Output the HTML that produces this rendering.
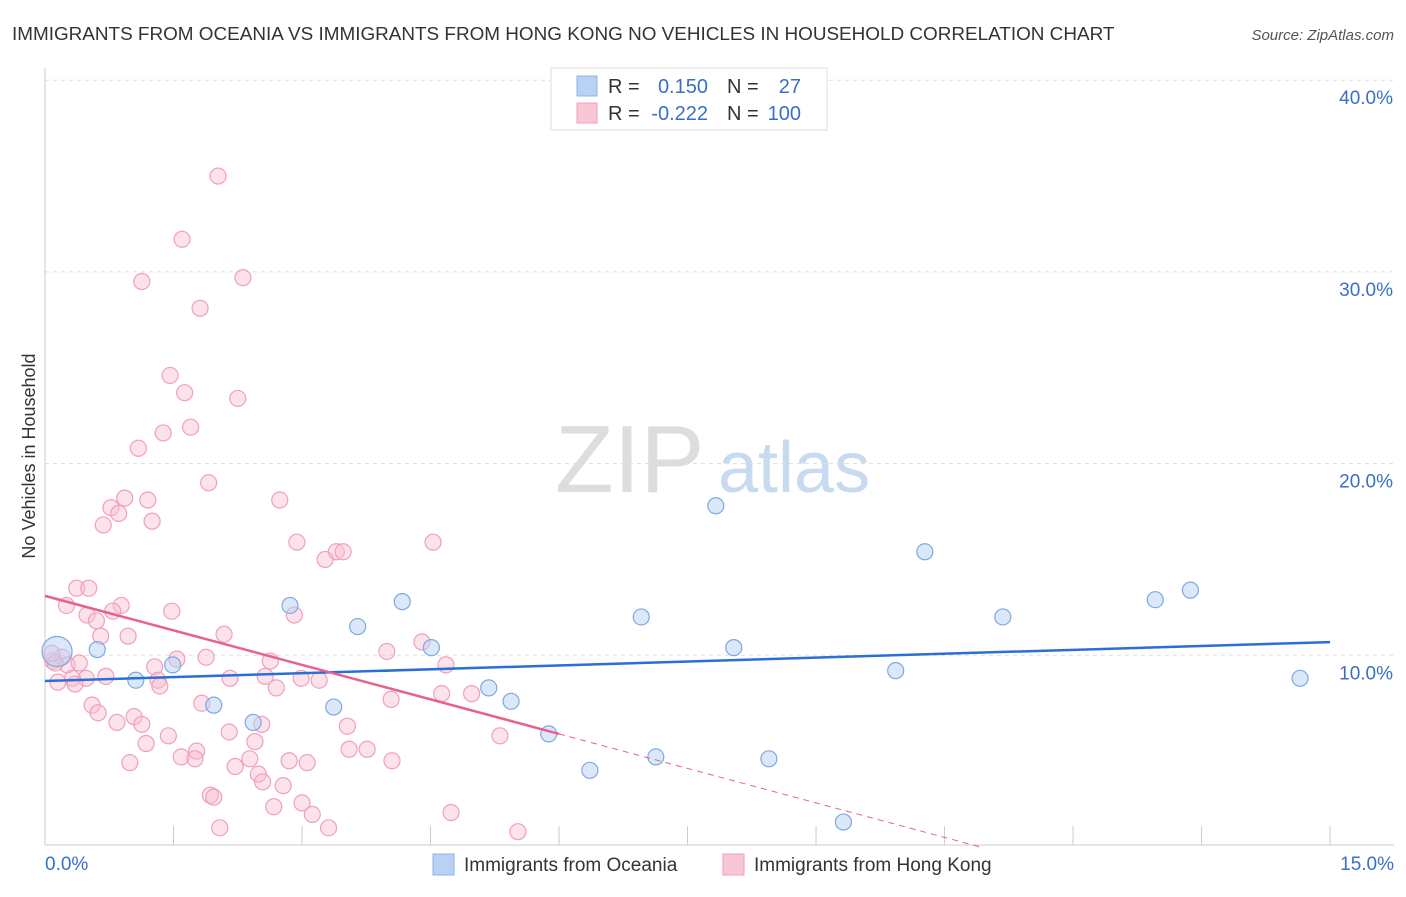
<!DOCTYPE html>
<html><head><meta charset="utf-8"><style>
body{margin:0;background:#fff;font-family:"Liberation Sans",sans-serif;}
svg text{font-family:"Liberation Sans",sans-serif;}
</style></head><body>
<svg id="c" width="1406" height="892">
<text x="12" y="40" font-size="18.9" fill="#333">IMMIGRANTS FROM OCEANIA VS IMMIGRANTS FROM HONG KONG NO VEHICLES IN HOUSEHOLD CORRELATION CHART</text>
<text x="1394" y="40" font-size="15" fill="#555" font-style="italic" text-anchor="end">Source: ZipAtlas.com</text>
<text x="35" y="456" font-size="18" fill="#333" text-anchor="middle" transform="rotate(-90 35 456)">No Vehicles in Household</text>
<text x="555" y="492" font-size="96" fill="#ddd" font-family="Liberation Serif">ZIP</text>
<text x="718" y="492" font-size="72" fill="#c8daf0">atlas</text>
<g id="grid"></g><g id="pts"></g><g id="lines"></g>
<g>
<rect x="551" y="68" width="276" height="62" fill="#fff" stroke="#ddd"/>
<rect x="577" y="76" width="20" height="20" fill="#b7d2f5" stroke="#8db4e8"/>
<rect x="577" y="103" width="20" height="20" fill="#f8c6d6" stroke="#f0a0ba"/>
<text x="608" y="93" font-size="20" fill="#333">R = </text><text x="708" y="93" font-size="20" fill="#3a6fc7" text-anchor="end">0.150</text>
<text x="727" y="93" font-size="20" fill="#333">N = </text><text x="801" y="93" font-size="20" fill="#3a6fc7" text-anchor="end">27</text>
<text x="608" y="120" font-size="20" fill="#333">R = </text><text x="708" y="120" font-size="20" fill="#3a6fc7" text-anchor="end">-0.222</text>
<text x="727" y="120" font-size="20" fill="#333">N = </text><text x="801" y="120" font-size="20" fill="#3a6fc7" text-anchor="end">100</text>
</g>
<g>
<rect x="433" y="854" width="21" height="21" fill="#b7d2f5" stroke="#8db4e8"/>
<text x="464" y="871" font-size="19" fill="#333">Immigrants from Oceania</text>
<rect x="723" y="854" width="21" height="21" fill="#f8c6d6" stroke="#f0a0ba"/>
<text x="754" y="871" font-size="19" fill="#333">Immigrants from Hong Kong</text>
</g>
</svg>
<script>
const yTicks=[10,20,30,40];
const yTickLabels=["10.0%","20.0%","30.0%","40.0%"];
const blueX=[0.14,0.61,1.06,1.49,1.97,2.43,2.86,3.37,3.65,4.17,4.51,5.18,5.44,5.88,6.36,6.96,7.13,7.83,8.04,8.45,9.32,9.93,10.27,11.18,12.96,13.37,14.65];
const blueY=[10.2,10.3,8.7,9.5,7.4,6.5,12.6,7.3,11.5,12.8,10.4,8.3,7.6,5.9,4.0,12.0,4.7,17.8,10.4,4.6,1.3,9.2,15.4,12.0,12.9,13.4,8.8];
const pinkX=[2.02,1.60,1.13,2.31,1.81,1.46,1.63,2.25,1.70,1.38,1.09,1.91,0.93,1.20,0.77,0.86,2.74,1.25,0.68,4.53,2.94,3.40,3.48,3.27,0.37,0.51,0.25,0.89,1.48,0.79,0.49,2.91,0.60,0.65,0.97,2.09,4.40,3.99,0.20,0.09,0.26,1.88,1.54,2.63,1.28,4.68,0.71,0.48,0.32,0.15,0.35,2.16,2.57,1.32,1.34,2.99,3.20,2.70,4.63,4.98,4.04,1.83,0.55,0.62,1.04,0.84,1.13,2.53,3.53,1.44,2.15,5.31,1.18,2.45,1.77,3.55,3.76,1.59,1.75,2.39,2.85,3.06,4.05,0.99,2.22,2.49,2.54,2.78,1.93,1.97,3.00,2.67,3.12,4.74,2.04,3.31,5.52,0.12,0.08,0.40];
const pinkY=[35.0,31.7,29.5,29.7,28.1,24.6,23.7,23.4,21.9,21.6,20.8,19.0,18.2,18.1,17.7,17.4,18.1,17.0,16.8,15.9,15.9,15.4,15.4,15.0,13.5,13.5,12.6,12.6,12.3,12.3,12.1,12.1,11.8,11.0,11.0,11.1,10.7,10.2,9.9,9.7,9.5,9.9,9.8,9.7,9.4,9.5,8.9,8.8,8.8,8.6,8.5,8.8,8.9,8.7,8.4,8.8,8.7,8.3,8.0,8.0,7.7,7.5,7.4,7.0,6.8,6.5,6.4,6.4,6.3,5.8,6.0,5.8,5.4,5.5,5.0,5.1,5.1,4.7,4.6,4.6,4.5,4.4,4.5,4.4,4.2,3.8,3.4,3.2,2.7,2.6,2.3,2.1,1.7,1.8,1.0,1.0,0.8,9.6,10.1,9.6];
const blueTrend=[8.66,10.69];
const pinkTrend=[13.1,-1.2];
const X=v=>45+v*85.67, Y=v=>847-v*19.17;
const NS="http://www.w3.org/2000/svg";
function mk(p,t,a){const e=document.createElementNS(NS,t);for(const k in a)e.setAttribute(k,a[k]);p.appendChild(e);return e;}
const grid=document.getElementById('grid');
yTicks.forEach((t,i)=>{
 const l=mk(grid,'line',{x1:45,x2:1394,y1:Y(t),y2:Y(t),stroke:'#ddd','stroke-dasharray':'4,4'});
 
 
 const tx=mk(grid,'text',{x:1393,y:Y(t)+24,'font-size':19,fill:'#3a6fc7','text-anchor':'end'});tx.textContent=yTickLabels[i];
 
 
});
mk(grid,'line',{x1:45,x2:45,y1:68,y2:845,stroke:'#ccc'});
mk(grid,'line',{x1:45,x2:1394,y1:845,y2:845,stroke:'#ccc'});
for(let i=0;i<=10;i++){const l=mk(grid,'line',{x1:X(i*1.5),x2:X(i*1.5),y1:826,y2:845,stroke:'#ccc'});
 
 }
let a=mk(grid,'text',{x:45,y:870,'font-size':19,fill:'#3a6fc7'});a.textContent='0.0%';


a=mk(grid,'text',{x:1394,y:870,'font-size':19,fill:'#3a6fc7','text-anchor':'end'});a.textContent='15.0%';


const pts=document.getElementById('pts');
pinkX.forEach((x,i)=>{const c=mk(pts,'circle',{cx:X(x),cy:Y(pinkY[i]),r:8,fill:'rgba(248,190,208,0.45)',stroke:'#f0a0ba','stroke-width':1.2});
 
 });
blueX.forEach((x,i)=>{const c=mk(pts,'circle',{cx:X(x),cy:Y(blueY[i]),r:i==0?15:8,fill:'rgba(183,210,245,0.5)',stroke:'#7fa8e0','stroke-width':1.2});
 
 });
const ln=document.getElementById('lines');
let t=mk(ln,'line',{x1:X(0),y1:Y(blueTrend[0]),x2:X(15),y2:Y(blueTrend[1]),stroke:'#2a6fd6','stroke-width':2.5});


const pe=x=>pinkTrend[0]+pinkTrend[1]*x;
t=mk(ln,'line',{x1:X(0),y1:Y(pe(0)),x2:X(6),y2:Y(pe(6)),stroke:'#e8608e','stroke-width':2.5});


const x0=-pinkTrend[0]/pinkTrend[1];
t=mk(ln,'line',{x1:X(6),y1:Y(pe(6)),x2:X(x0),y2:Y(0),stroke:'#e8608e','stroke-width':1,'stroke-dasharray':'6,5'});


</script>
</body></html>
